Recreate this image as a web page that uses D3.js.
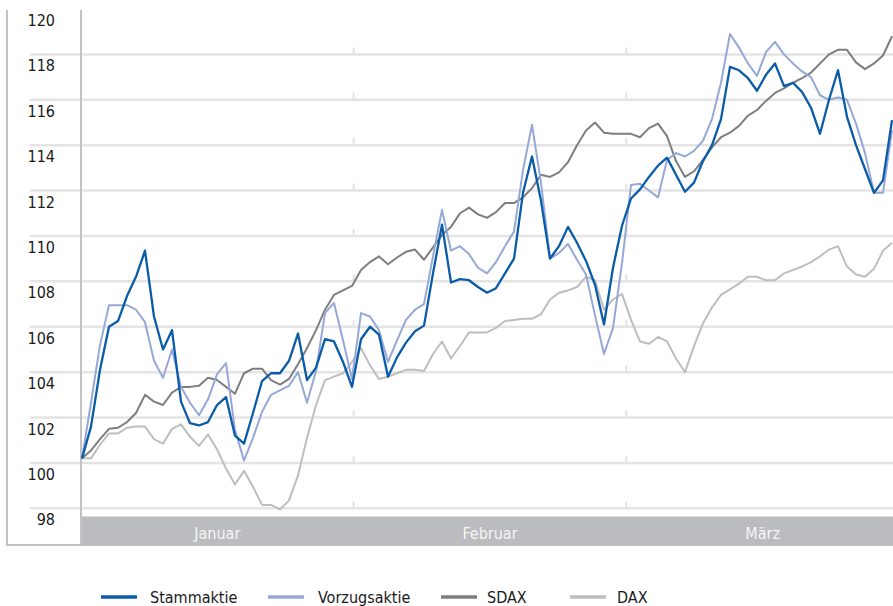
<!doctype html>
<html>
  <head>
    <meta charset="utf-8">
    <title>Kursentwicklung Januar bis März</title>
    <script src="https://cdnjs.cloudflare.com/ajax/libs/d3/7.8.5/d3.min.js"></script>
    <style>
      body { margin: 0; background: #fff; }
      text { font-family: "DejaVu Sans Condensed", "Liberation Sans Narrow", "Roboto", sans-serif; }
    </style>
  </head>

  <body>
    <div id="chart"></div>

    <script>
      // Data: indexed values (start = 100), one value per calendar day
      const stammaktie = [
        100.2, 101.6, 104.1, 106.0, 106.25, 107.35, 108.2, 109.35, 106.45, 105.0,
        105.85, 102.7, 101.75, 101.65, 101.8, 102.55, 102.9, 101.2, 100.85, 102.2,
        103.6, 103.95, 103.95, 104.5, 105.7, 103.65, 104.2, 105.45, 105.35, 104.45,
        103.35, 105.45, 106.0, 105.65, 103.8, 104.65, 105.3, 105.8, 106.05, 108.35,
        110.5, 107.95, 108.1, 108.05, 107.75, 107.5, 107.7, 108.35, 109.0, 111.9,
        113.5, 111.55, 109.0, 109.55, 110.4, 109.7, 108.9, 107.85, 106.1, 108.6,
        110.45, 111.65, 112.05, 112.6, 113.1, 113.45, 112.7, 111.95, 112.35, 113.3,
        114.0, 115.15, 117.45, 117.3, 116.95, 116.4, 117.1, 117.6, 116.6, 116.75,
        116.35, 115.65, 114.5, 116.0, 117.3, 115.25, 114.0, 112.95, 111.9, 112.45,
        115.1
      ];
      const vorzugsaktie = [
        100.2, 102.65, 105.2, 106.95, 106.95, 106.95, 106.75, 106.2, 104.5, 103.75,
        105.0, 103.35, 102.65, 102.1, 102.8, 103.9, 104.4, 101.45, 100.1, 101.1,
        102.25, 103.0, 103.2, 103.4, 104.0, 102.65, 104.05, 106.6, 107.05, 105.4,
        103.7, 106.6, 106.45, 105.85, 104.45, 105.4, 106.3, 106.75, 107.0, 109.1,
        111.15, 109.35, 109.55, 109.2, 108.6, 108.35, 108.85, 109.55, 110.2, 112.9,
        114.9, 112.35, 109.0, 109.25, 109.65, 108.95, 108.3, 106.5, 104.8, 105.95,
        108.8, 112.25, 112.3, 112.0, 111.7, 113.35, 113.65, 113.5, 113.75, 114.2,
        115.15, 116.75, 118.9, 118.3, 117.6, 117.05, 118.1, 118.55, 118.0, 117.6,
        117.25, 117.0, 116.2, 116.0, 116.1, 116.0, 114.95, 113.65, 111.9, 111.9,
        114.65
      ];
      const sdax = [
        100.2, 100.55, 101.05, 101.5, 101.55, 101.8, 102.2, 103.0, 102.7, 102.55,
        103.1, 103.35, 103.35, 103.4, 103.75, 103.65, 103.35, 103.05, 103.95, 104.15,
        104.15, 103.65, 103.45, 103.7, 104.35, 105.05, 105.85, 106.75, 107.4, 107.6,
        107.8, 108.5, 108.85, 109.1, 108.75, 109.05, 109.3, 109.4, 108.95, 109.5,
        110.05, 110.4, 111.0, 111.25, 110.95, 110.8, 111.05, 111.45, 111.45, 111.7,
        112.1, 112.7, 112.6, 112.8, 113.25, 114.0, 114.65, 115.0, 114.55, 114.5,
        114.5, 114.5, 114.35, 114.75, 114.95, 114.4, 113.3, 112.6, 112.85, 113.35,
        113.9, 114.35, 114.55, 114.85, 115.3, 115.55, 115.95, 116.3, 116.5, 116.75,
        116.95, 117.2, 117.6, 118.0, 118.2, 118.2, 117.65, 117.35, 117.6, 117.95,
        118.8
      ];
      const dax = [
        100.2, 100.2, 100.8, 101.3, 101.3, 101.55, 101.6, 101.6, 101.05, 100.85,
        101.5, 101.7, 101.15, 100.75, 101.25, 100.6, 99.75, 99.05, 99.65, 98.95,
        98.15, 98.15, 97.95, 98.35, 99.45, 101.1, 102.55, 103.65, 103.8, 103.95,
        104.45, 105.05, 104.3, 103.7, 103.8, 103.95, 104.1, 104.1, 104.05, 104.8,
        105.35, 104.6, 105.15, 105.75, 105.75, 105.75, 105.95, 106.25, 106.3, 106.35,
        106.35, 106.55, 107.2, 107.5, 107.6, 107.75, 108.2, 108.05, 106.75, 107.2,
        107.45, 106.3, 105.35, 105.25, 105.55, 105.35, 104.6, 104.0, 105.15, 106.15,
        106.85, 107.4, 107.65, 107.9, 108.2, 108.2, 108.05, 108.05, 108.35, 108.5,
        108.65, 108.85, 109.1, 109.4, 109.55, 108.65, 108.3, 108.2, 108.55, 109.35,
        109.7
      ];

      const months = ['Januar', 'Februar', 'März'];
      const yTicks = [98, 100, 102, 104, 106, 108, 110, 112, 114, 116, 118, 120];
      const seriesNames = ['Stammaktie', 'Vorzugsaktie', 'SDAX', 'DAX'];
      const seriesColors = ['#0b5ca8', '#95a8d8', '#7e7e80', '#bebec0'];

      const series = [
        { name: seriesNames[3], values: dax, color: seriesColors[3] },
        { name: seriesNames[2], values: sdax, color: seriesColors[2] },
        { name: seriesNames[1], values: vorzugsaktie, color: seriesColors[1] },
        { name: seriesNames[0], values: stammaktie, color: seriesColors[0] }
      ];

      const width = 893, height = 606;
      const plotLeft = 81, plotRight = 893;

      const svg = d3.select('#chart')
        .append('svg')
        .attr('width', width)
        .attr('height', height);

      // Scales
      const x = d3.scaleLinear()
        .domain([0, stammaktie.length - 1])
        .range([82, 892]);

      const y = d3.scaleLinear()
        .domain([98, 120])
        .range([508.3, 9]);

      const monthBand = d3.scaleBand()
        .domain(months)
        .range([plotLeft, 899]);

      // Gridlines (98 - 118)
      const gridTicks = yTicks.filter(d => d < 120);
      svg.selectAll('line.grid')
        .data(gridTicks)
        .join('line')
        .attr('class', 'grid')
        .attr('x1', 30)
        .attr('x2', plotRight)
        .attr('y1', d => y(d))
        .attr('y2', d => y(d))
        .attr('stroke', '#e4e4e4')
        .attr('stroke-width', 2.5);

      // small month ticks sitting on each gridline
      const monthEdges = months.slice(1).map(m => monthBand(m));
      gridTicks.forEach(t => {
        svg.selectAll(null)
          .data(monthEdges)
          .join('line')
          .attr('x1', d => d)
          .attr('x2', d => d)
          .attr('y1', y(t) - 7)
          .attr('y2', y(t))
          .attr('stroke', '#e4e4e4')
          .attr('stroke-width', 2);
      });

      // Y labels (drawn below their gridline)
      svg.selectAll('text.ylabel')
        .data(yTicks)
        .join('text')
        .attr('class', 'ylabel')
        .attr('x', 55)
        .attr('y', d => y(d) + 17)
        .attr('text-anchor', 'end')
        .attr('font-size', '16px')
        .attr('fill', '#1a1a1a')
        .text(d => d);

      // Month band
      svg.append('rect')
        .attr('x', plotLeft)
        .attr('y', 516.5)
        .attr('width', plotRight - plotLeft)
        .attr('height', 29.5)
        .attr('fill', '#bbbcbf');

      svg.selectAll('text.month')
        .data(months)
        .join('text')
        .attr('class', 'month')
        .attr('x', d => monthBand(d) + monthBand.bandwidth() / 2)
        .attr('y', 538.5)
        .attr('text-anchor', 'middle')
        .attr('font-size', '16px')
        .attr('fill', '#f6f6f6')
        .text(d => d);

      // Frame and axis lines
      svg.append('path')
        .attr('d', 'M7,10 V545 H81')
        .attr('fill', 'none')
        .attr('stroke', '#c3c3c5')
        .attr('stroke-width', 2);

      svg.append('line')
        .attr('x1', plotLeft).attr('x2', plotLeft)
        .attr('y1', 10).attr('y2', 546)
        .attr('stroke', '#c3c3c5')
        .attr('stroke-width', 2);

      // Lines
      const line = d3.line()
        .x((d, i) => x(i))
        .y(d => y(d));

      svg.selectAll('path.series')
        .data(series)
        .join('path')
        .attr('class', 'series')
        .attr('d', d => line(d.values))
        .attr('fill', 'none')
        .attr('stroke', d => d.color)
        .attr('stroke-width', d => d.name === 'Stammaktie' ? 2.3 : 2)
        .attr('stroke-linejoin', 'round');

      // Legend
      const legendX = [101, 268, 441, 570];
      const legend = svg.selectAll('g.legend')
        .data(seriesNames)
        .join('g')
        .attr('class', 'legend')
        .attr('transform', (d, i) => `translate(${legendX[i]}, 597)`);

      legend.append('line')
        .attr('x1', 0)
        .attr('x2', 36)
        .attr('stroke', (d, i) => seriesColors[i])
        .attr('stroke-width', 3.5);

      legend.append('text')
        .attr('x', (d, i) => [49, 50, 46, 47][i])
        .attr('y', 6)
        .attr('font-size', '16px')
        .attr('fill', '#1a1a1a')
        .text(d => d);
    </script>
  </body>
</html>
